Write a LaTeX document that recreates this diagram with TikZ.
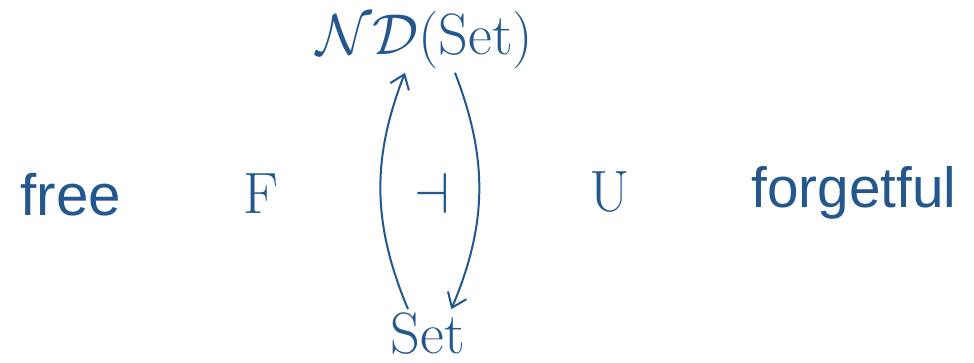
\documentclass[tikz,border=0pt]{standalone}
\usepackage{fontspec}
\setsansfont{Liberation Sans}
\usepackage{tikz}
\usetikzlibrary{arrows.meta,positioning}
\definecolor{ink}{HTML}{23578E}

\begin{document}
\begin{tikzpicture}[x=0.3pt,y=0.3pt,
  every node/.style={text=ink,inner sep=1pt},
  obj/.style={font=\fontsize{17.5}{20}\selectfont},
  word/.style={font=\fontsize{17.5}{20}\selectfont\sffamily},
  arr/.style={ink,line width=0.6pt,-{Straight Barb[length=4pt,width=6pt]}}]
  \useasboundingbox (0,0) rectangle (974,362);

  \node[obj] (nd) at (425,322) {$\mathcal{N}\mathcal{D}(\mathrm{Set})$};
  \node[obj] (set) at (428,28) {$\mathrm{Set}$};

  \node[word] (free) at (71,167) {free};
  \node[word,font=\fontsize{17}{20}\selectfont\sffamily] (forget) at (854,169) {forgetful};
  \node[obj] (lf) at (261,168) {$\mathrm{F}$};
  \node[obj] (lu) at (610,170) {$\mathrm{U}$};
  \node[obj] (adj) at (432,169) {$\dashv$};

  \draw[arr] ([xshift=-6pt]set.north) to[bend left=22] ([xshift=-6pt]nd.south);
  \draw[arr] ([xshift=9pt]nd.south) to[bend left=22] ([xshift=7pt]set.north);
\end{tikzpicture}
\end{document}
